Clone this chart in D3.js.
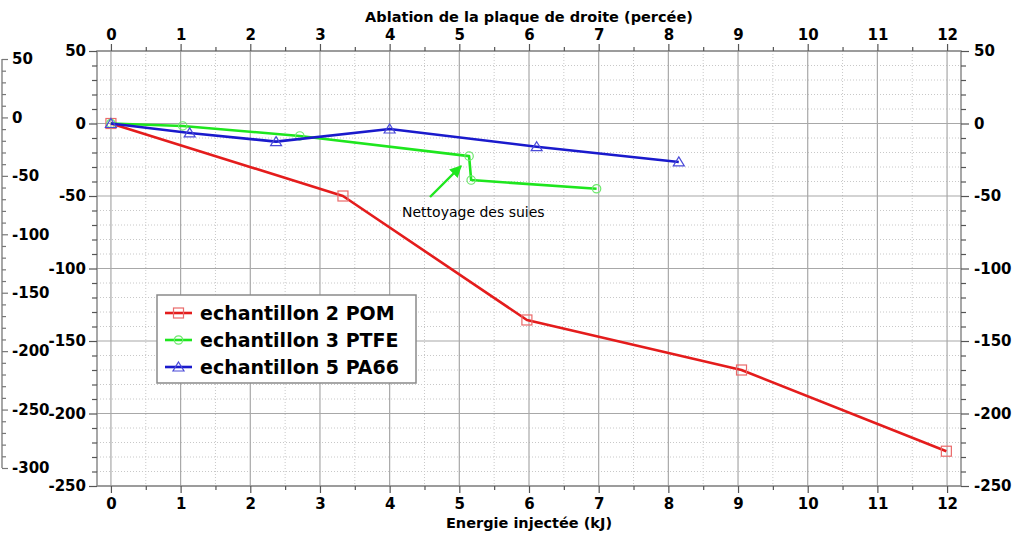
<!DOCTYPE html>
<html>
<head>
<meta charset="utf-8">
<script src="https://cdn.jsdelivr.net/npm/d3@7/dist/d3.min.js"></script>
<style>
  html, body { margin: 0; padding: 0; background: #fff; }
  svg { display: block; font-family: "DejaVu Sans", Verdana, sans-serif; }
</style>
</head>
<body>
<svg id="chart" width="1019" height="533"></svg>
<script>
// Energy injected (kJ) vs. ablation for each sample
const pomEnergy   = [0, 3.33, 5.97, 9.05, 11.99];
const pomValues   = [0, -50, -135.5, -170, -226];
const ptfeEnergy  = [0, 1.03, 2.71, 5.14, 5.17, 6.97];
const ptfeValues  = [0, -1.7, -8.6, -22.5, -39, -45];
const pa66Energy  = [0, 1.13, 2.37, 4.0, 6.11, 8.15];
const pa66Values  = [0, -6.5, -12.5, -3.8, -16, -26.5];

const seriesNames = ["echantillon 2 POM", "echantillon 3 PTFE", "echantillon 5 PA66"];
const seriesColors = ["#e41c1c", "#1ee61e", "#1a1acc"];
const markerColors = ["#ea6a6a", "#6ee86e", "#4a4ad8"];
const markerShapes = ["square", "circle", "triangle"];

const xTicks = d3.range(0, 13, 1);
const xMinorTicks = d3.range(-0.5, 12.6, 0.5).filter(v => v % 1 !== 0 && v > -0.2 && v < 12.2);
const yTicks = [50, 0, -50, -100, -150, -200, -250];
const yMinorTicks = d3.range(-250, 51, 10).filter(v => v % 50 !== 0);
const outerTicks = [50, 0, -50, -100, -150, -200, -250, -300];
const outerMinorTicks = d3.range(-300, 51, 10).filter(v => v % 50 !== 0);

const annotationText = "Nettoyage des suies";
const topTitle = "Ablation de la plaque de droite (percée)";
const bottomTitle = "Energie injectée (kJ)";

const svg = d3.select("#chart");
const L = 97, R = 961, T = 51, B = 486;

const x = d3.scaleLinear().domain([-0.2, 12.2]).range([L, R]);
const y = d3.scaleLinear().domain([-250, 50]).range([B, T]);
const yOuter = d3.scaleLinear().domain([-300, 50]).range([468, 59]);

const fmt = d => String(d);
const axisColor = "#555";
const tickFont = "bold 15px 'DejaVu Sans', Verdana, sans-serif";
const titleFont = "bold 14.5px 'DejaVu Sans', Verdana, sans-serif";

// grid
const grid = svg.append("g");
grid.selectAll(".vmin").data(xMinorTicks).join("line")
  .attr("x1", d => x(d)).attr("x2", d => x(d)).attr("y1", T).attr("y2", B)
  .attr("stroke", "#c8c8c8").attr("stroke-dasharray", "1,2");
grid.selectAll(".hmin").data(yMinorTicks).join("line")
  .attr("y1", d => y(d)).attr("y2", d => y(d)).attr("x1", L).attr("x2", R)
  .attr("stroke", "#c8c8c8").attr("stroke-dasharray", "1,2");
grid.selectAll(".vmaj").data(xTicks).join("line")
  .attr("x1", d => x(d)).attr("x2", d => x(d)).attr("y1", T).attr("y2", B)
  .attr("stroke", "#a8a8a8").attr("stroke-width", 1.2);
grid.selectAll(".hmaj").data(yTicks).join("line")
  .attr("y1", d => y(d)).attr("y2", d => y(d)).attr("x1", L).attr("x2", R)
  .attr("stroke", "#a8a8a8").attr("stroke-width", 1.2);

// plot frame
svg.append("rect").attr("x", L).attr("y", T).attr("width", R - L).attr("height", B - T)
  .attr("fill", "none").attr("stroke", "#8a8a8a").attr("stroke-width", 1.5);

function styleAxis(g) {
  g.select(".domain").remove();
  g.selectAll("line").attr("stroke", axisColor).attr("stroke-width", 1.2);
  g.selectAll("text").style("font", tickFont).attr("fill", "#000");
}

// major axes
svg.append("g").attr("transform", `translate(0,${B})`)
  .call(d3.axisBottom(x).tickValues(xTicks).tickFormat(fmt).tickSize(7).tickPadding(5)).call(styleAxis);
svg.append("g").attr("transform", `translate(0,${T})`)
  .call(d3.axisTop(x).tickValues(xTicks).tickFormat(fmt).tickSize(7).tickPadding(4)).call(styleAxis);
svg.append("g").attr("transform", `translate(${L},0)`)
  .call(d3.axisLeft(y).tickValues(yTicks).tickFormat(fmt).tickSize(8).tickPadding(3)).call(styleAxis);
svg.append("g").attr("transform", `translate(${R},0)`)
  .call(d3.axisRight(y).tickValues(yTicks).tickFormat(fmt).tickSize(8).tickPadding(5)).call(styleAxis);

// minor ticks
svg.append("g").attr("transform", `translate(0,${B})`)
  .call(d3.axisBottom(x).tickValues(xMinorTicks).tickFormat("").tickSize(4)).call(styleAxis);
svg.append("g").attr("transform", `translate(0,${T})`)
  .call(d3.axisTop(x).tickValues(xMinorTicks).tickFormat("").tickSize(4)).call(styleAxis);
svg.append("g").attr("transform", `translate(${L},0)`)
  .call(d3.axisLeft(y).tickValues(yMinorTicks).tickFormat("").tickSize(5)).call(styleAxis);
svg.append("g").attr("transform", `translate(${R},0)`)
  .call(d3.axisRight(y).tickValues(yMinorTicks).tickFormat("").tickSize(5)).call(styleAxis);

// outer left scale
const outer = svg.append("g").attr("transform", "translate(2,0)");
outer.call(d3.axisRight(yOuter).tickValues(outerTicks).tickFormat(fmt).tickSize(6).tickPadding(4));
outer.select(".domain").attr("stroke", "#777").attr("stroke-width", 1.3).attr("d", `M0,${yOuter(50)}V${yOuter(-300)}`);
outer.selectAll("line").attr("stroke", "#777").attr("stroke-width", 1.2);
outer.selectAll("text").style("font", tickFont).attr("fill", "#000");
const outerMinor = svg.append("g").attr("transform", "translate(2,0)")
  .call(d3.axisRight(yOuter).tickValues(outerMinorTicks).tickFormat("").tickSize(4));
outerMinor.select(".domain").remove();
outerMinor.selectAll("line").attr("stroke", "#777").attr("stroke-width", 1.2);

// axis titles
svg.append("text").attr("x", (L + R) / 2).attr("y", 22).attr("text-anchor", "middle")
  .style("font", titleFont).text(topTitle);
svg.append("text").attr("x", (L + R) / 2).attr("y", 528).attr("text-anchor", "middle")
  .style("font", titleFont).text(bottomTitle);

// series
const series = [
  { energy: pomEnergy, values: pomValues },
  { energy: ptfeEnergy, values: ptfeValues },
  { energy: pa66Energy, values: pa66Values }
];

const line = d3.line().x(d => x(d[0])).y(d => y(d[1]));

function drawMarker(g, shape, cx, cy, color) {
  if (shape === "square") {
    g.append("rect").attr("x", cx - 5).attr("y", cy - 5).attr("width", 10).attr("height", 10)
      .attr("fill", "none").attr("stroke", color).attr("stroke-width", 1.2);
  } else if (shape === "circle") {
    g.append("circle").attr("cx", cx).attr("cy", cy).attr("r", 4.2)
      .attr("fill", "none").attr("stroke", color).attr("stroke-width", 1.2);
  } else {
    g.append("path").attr("d", `M${cx},${cy - 5}L${cx + 5.5},${cy + 4}L${cx - 5.5},${cy + 4}Z`)
      .attr("fill", "none").attr("stroke", color).attr("stroke-width", 1.2);
  }
}

series.forEach((s, i) => {
  const pts = s.energy.map((e, k) => [e, s.values[k]]);
  const g = svg.append("g");
  g.append("path").datum(pts).attr("d", line).attr("fill", "none")
    .attr("stroke", seriesColors[i]).attr("stroke-width", 2.6).attr("stroke-linejoin", "round");
  pts.forEach(p => drawMarker(g, markerShapes[i], x(p[0]), y(p[1]), markerColors[i]));
});

// annotation with arrow
svg.append("defs").append("marker").attr("id", "arrowhead")
  .attr("viewBox", "0 0 10 10").attr("refX", 9).attr("refY", 5)
  .attr("markerWidth", 5).attr("markerHeight", 5).attr("orient", "auto")
  .append("path").attr("d", "M0,0L10,5L0,10Z").attr("fill", "#1ee61e");
svg.append("line").attr("x1", 430).attr("y1", 197).attr("x2", 461).attr("y2", 166)
  .attr("stroke", "#1ee61e").attr("stroke-width", 2.4).attr("marker-end", "url(#arrowhead)");
svg.append("text").attr("x", 402).attr("y", 217)
  .style("font", "14px 'DejaVu Sans', Verdana, sans-serif").attr("fill", "#000").text(annotationText);

// legend
const lg = svg.append("g").attr("transform", "translate(157,295)");
lg.append("rect").attr("width", 259).attr("height", 88).attr("fill", "#fff")
  .attr("stroke", "#8a8a8a").attr("stroke-width", 1.5);
seriesNames.forEach((name, i) => {
  const cy = 18 + i * 27;
  lg.append("line").attr("x1", 8).attr("x2", 35).attr("y1", cy).attr("y2", cy)
    .attr("stroke", seriesColors[i]).attr("stroke-width", 2.6);
  drawMarker(lg, markerShapes[i], 21.5, cy, markerColors[i]);
  lg.append("text").attr("x", 43).attr("y", cy + 7)
    .style("font", "bold 19px 'DejaVu Sans', Verdana, sans-serif").attr("fill", "#000").text(name);
});
</script>
</body>
</html>
